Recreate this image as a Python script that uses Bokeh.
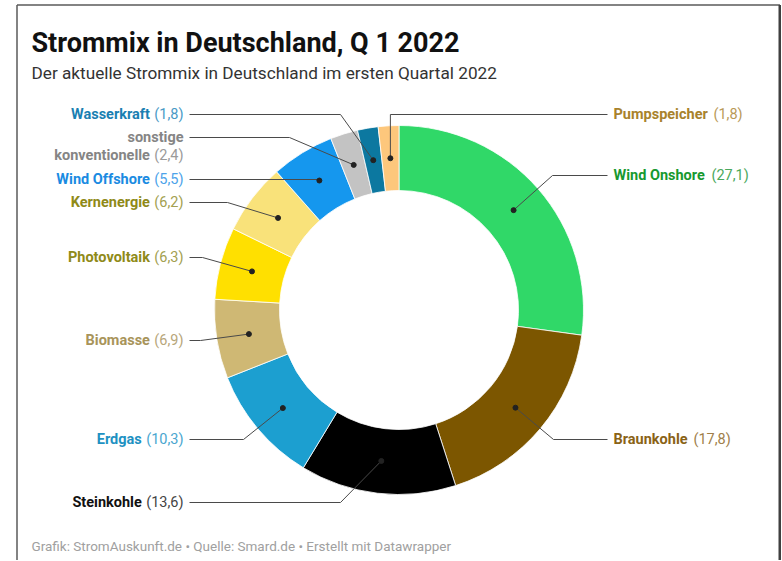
import math
from bokeh.plotting import figure
from bokeh.models import Range1d, ColumnDataSource
from bokeh.embed import file_html
from bokeh.resources import INLINE
from bokeh.core.properties import value

# ---------------- data ----------------
categories = ["Wind Onshore", "Braunkohle", "Steinkohle", "Erdgas", "Biomasse",
              "Photovoltaik", "Kernenergie", "Wind Offshore",
              "sonstige konventionelle", "Wasserkraft", "Pumpspeicher"]
shares = [27.1, 17.8, 13.6, 10.3, 6.9, 6.3, 6.2, 5.5, 2.4, 1.8, 1.8]

title_text = "Strommix in Deutschland, Q 1 2022"
subtitle_text = "Der aktuelle Strommix in Deutschland im ersten Quartal 2022"
footer_text = "Grafik: StromAuskunft.de \u2022 Quelle: Smard.de \u2022 Erstellt mit Datawrapper"

# ---------------- styles ----------------
slice_colors = ["#30d868", "#7c5600", "#000000", "#1c9fd0", "#cfb874",
                "#ffe000", "#f9e27a", "#1597ee", "#c3c3c3", "#0c78a0", "#fdc77c"]
name_colors = ["#17992f", "#8a6316", "#111111", "#1e91c2", "#a8945a",
               "#8f8a18", "#8f8a18", "#1a8be2", "#858585", "#1a7fb2", "#a8822c"]
value_colors = ["#4aa85c", "#a0804a", "#444444", "#4aa6cf", "#b7a67a",
                "#a39f50", "#a39f50", "#4da3ea", "#9a9a9a", "#4a9ac6", "#b99a58"]

# ---------------- layout (screen px) ----------------
W, H = 781, 560
OX, OY = 0, 0
def Y(sy):
    return (OY + H) - sy

CX, CY = 398.5, 309.5
R_OUT, R_IN = 184.5, 119.5
R_MID = (R_OUT + R_IN) / 2

# label side, label y, elbow x (None -> straight/vertical), value x for right side
label_side = ["R", "R", "L", "L", "L", "L", "L", "L", "L", "L", "R"]
label_y = [175, 439, 502, 439, 340, 257, 202, 179, 137, 114, 114]
elbow_x = [552, 553, 340, 243, 200, 202, 227, None, 289, 340, None]
right_value_x = {0: 711, 1: 693, 10: 713}
label_lines = {8: ["sonstige", "konventionelle"]}
LEFT_END = 183
LEFT_LINE_X = 189
RIGHT_START = 613
RIGHT_LINE_X = 607
FS = 14.5

p = figure(width=W, height=H, output_backend="svg", toolbar_location=None,
           x_range=Range1d(OX, OX + W), y_range=Range1d(0, H),
           x_axis_location=None, y_axis_location=None, min_border=0,
           background_fill_color="white", border_fill_color="white")
p.outline_line_color = None
p.grid.visible = False

total = sum(shares)
starts, ends, mids = [], [], []
cum = 0.0
for s in shares:
    f0 = cum / total
    cum += s
    f1 = cum / total
    starts.append(math.pi / 2 - f1 * 2 * math.pi)
    ends.append(math.pi / 2 - f0 * 2 * math.pi)
    mids.append((f0 + f1) / 2)

src = ColumnDataSource(dict(start=starts, end=ends, color=slice_colors))
p.annular_wedge(x=CX, y=Y(CY), inner_radius=R_IN, outer_radius=R_OUT,
                start_angle="start", end_angle="end", direction="anticlock",
                fill_color="color", line_color="white", line_width=0.8, source=src)

# dots and leader lines
dot_x, dot_y, xs, ys = [], [], [], []
for i, m in enumerate(mids):
    a = m * 2 * math.pi
    dx = CX + R_MID * math.sin(a)
    dy = CY - R_MID * math.cos(a)
    dot_x.append(dx)
    dot_y.append(Y(dy))
    ly = label_y[i]
    ex = elbow_x[i] if elbow_x[i] is not None else dx
    endx = LEFT_LINE_X if label_side[i] == "L" else RIGHT_LINE_X
    xs.append([dx, ex, endx])
    ys.append([Y(dy), Y(ly), Y(ly)])

p.multi_line(xs=xs, ys=ys, line_color="#4a4a4a", line_width=1)
p.scatter(x=dot_x, y=dot_y, size=5, color="#222222")

def fmt(v):
    return "(" + ("%.1f" % v).replace(".", ",") + ")"

def val_width(t):
    digits = sum(ch.isdigit() for ch in t)
    return FS * (0.342 + 0.348 + 0.192 + 0.562 * digits)

# labels
for i, name in enumerate(categories):
    vt = fmt(shares[i])
    ly = label_y[i]
    lines = label_lines.get(i, [name])
    if label_side[i] == "L":
        last_y = ly + 18 * (len(lines) - 1)
        name_right = LEFT_END - val_width(vt) - 4.5
        for k, ln in enumerate(lines):
            yy = ly + 18 * k
            is_last = (k == len(lines) - 1)
            p.text(x=[name_right if is_last else LEFT_END], y=[Y(yy)], text=[ln],
                   text_font=value("Roboto"), text_font_size="%spx" % FS,
                   text_font_style="bold", text_align="right", text_baseline="middle",
                   text_color=name_colors[i])
        p.text(x=[LEFT_END], y=[Y(last_y)], text=[vt],
               text_font=value("Roboto"), text_font_size="%spx" % FS,
               text_align="right", text_baseline="middle", text_color=value_colors[i])
    else:
        p.text(x=[RIGHT_START], y=[Y(ly)], text=[name],
               text_font=value("Roboto"), text_font_size="%spx" % FS,
               text_font_style="bold", text_align="left", text_baseline="middle",
               text_color=name_colors[i])
        p.text(x=[right_value_x[i]], y=[Y(ly)], text=[vt],
               text_font=value("Roboto"), text_font_size="%spx" % FS,
               text_align="left", text_baseline="middle", text_color=value_colors[i])

# title, subtitle, footer
p.text(x=[31], y=[Y(42)], text=[title_text], text_font=value("Roboto"),
       text_font_size="27px", text_font_style="bold", text_baseline="alphabetic",
       text_color="#111111")
p.text(x=[31], y=[Y(72)], text=[subtitle_text], text_font=value("Roboto"),
       text_font_size="17.2px", text_baseline="middle", text_color="#333333")
p.text(x=[31], y=[Y(545)], text=[footer_text], text_font=value("Roboto"),
       text_font_size="13.5px", text_baseline="middle", text_color="#a0a0a0")

# frame of the original screenshot
p.segment(x0=[16.5, 16.5], y0=[Y(561), Y(4.5)], x1=[16.5, 779.5], y1=[Y(4.5), Y(4.5)],
          line_color="#5a5a5a", line_width=1.5)
p.segment(x0=[779.5], y0=[Y(4.5)], x1=[779.5], y1=[Y(561)],
          line_color="#404040", line_width=3)

open("out.html", "w").write(file_html(p, INLINE))
